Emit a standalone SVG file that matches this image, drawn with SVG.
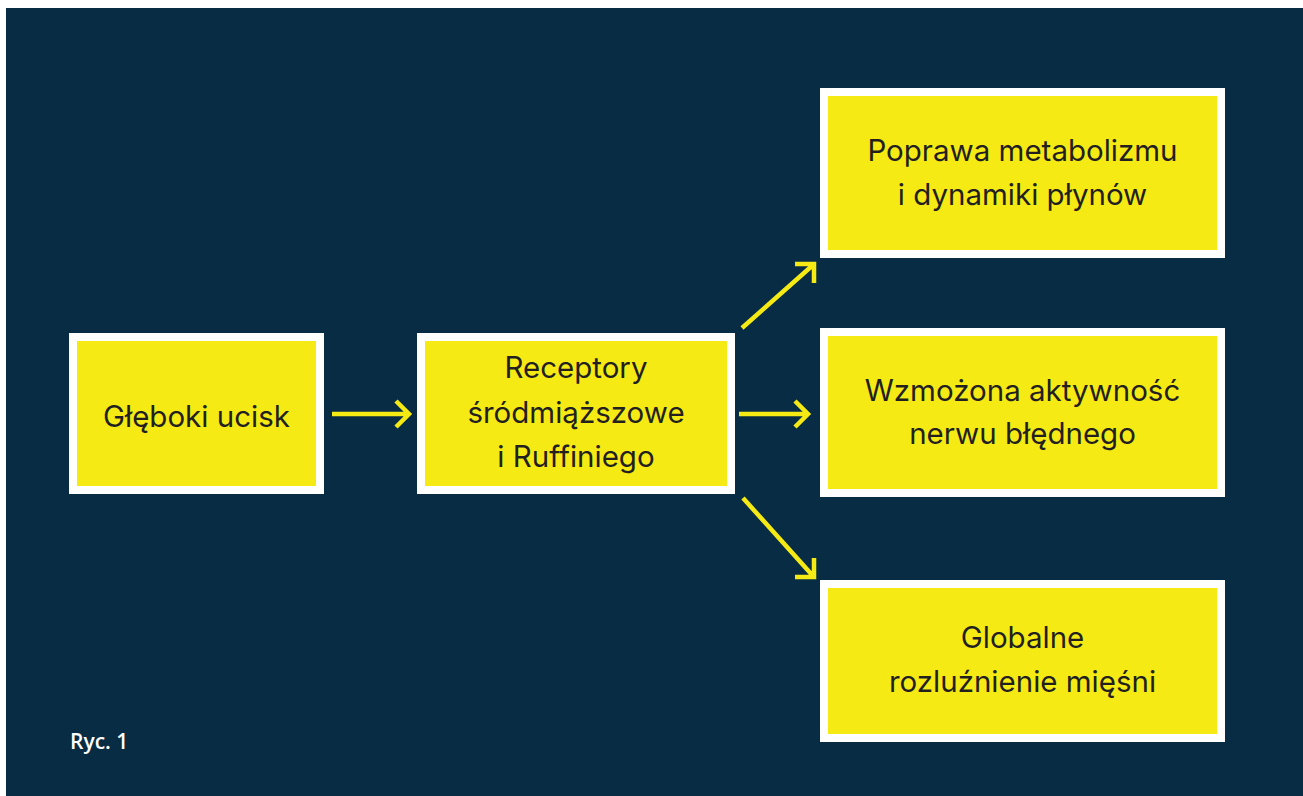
<svg xmlns="http://www.w3.org/2000/svg" width="1303" height="796" viewBox="0 0 1303 796">
<style>
.box{fill:#f5ea14;stroke:#ffffff;stroke-width:8}
.t{font-family:Inter,"Noto Sans",sans-serif;font-size:29.5px;fill:#231f20;text-anchor:middle}
.c{stroke:#f5ea14;stroke-width:4.5;fill:none;stroke-linecap:butt;stroke-linejoin:miter}
</style>
<rect x="0" y="0" width="1303" height="796" fill="#ffffff"/>
<rect x="6" y="8" width="1297" height="788" fill="#082c44"/>
<g id="n1"><rect class="box" x="73" y="337" width="247" height="153"/><text class="t" x="196.5" y="427">Głęboki ucisk</text></g>
<g id="n2"><rect class="box" x="421" y="337" width="310" height="153"/><text class="t" x="576" y="378">Receptory</text><text class="t" x="576" y="423">śródmiąższowe</text><text class="t" x="576" y="467">i Ruffiniego</text></g>
<g id="n3"><rect class="box" x="824" y="92" width="397" height="162"/><text class="t" x="1022.5" y="161">Poprawa metabolizmu</text><text class="t" x="1022.5" y="205">i dynamiki płynów</text></g>
<g id="n4"><rect class="box" x="824" y="332" width="397" height="161"/><text class="t" x="1022.5" y="401">Wzmożona aktywność</text><text class="t" x="1022.5" y="444">nerwu błędnego</text></g>
<g id="n5"><rect class="box" x="824" y="584" width="397" height="154"/><text class="t" x="1022.5" y="648">Globalne</text><text class="t" x="1022.5" y="692">rozluźnienie mięśni</text></g>
<g id="connectors">
<path class="c" d="M332 414H409M396 401L409 414L396 427"/>
<path class="c" d="M739 414H808M795 401L808 414L795 427"/>
<path class="c" d="M742 328L813 265M795 264H814V283"/>
<path class="c" d="M743 498L813 576M795 577H814V558"/>
</g>
<text x="70" y="749" font-family="'Open Sans',sans-serif" font-weight="600" font-size="21" fill="#ffffff">Ryc. 1</text>
</svg>
